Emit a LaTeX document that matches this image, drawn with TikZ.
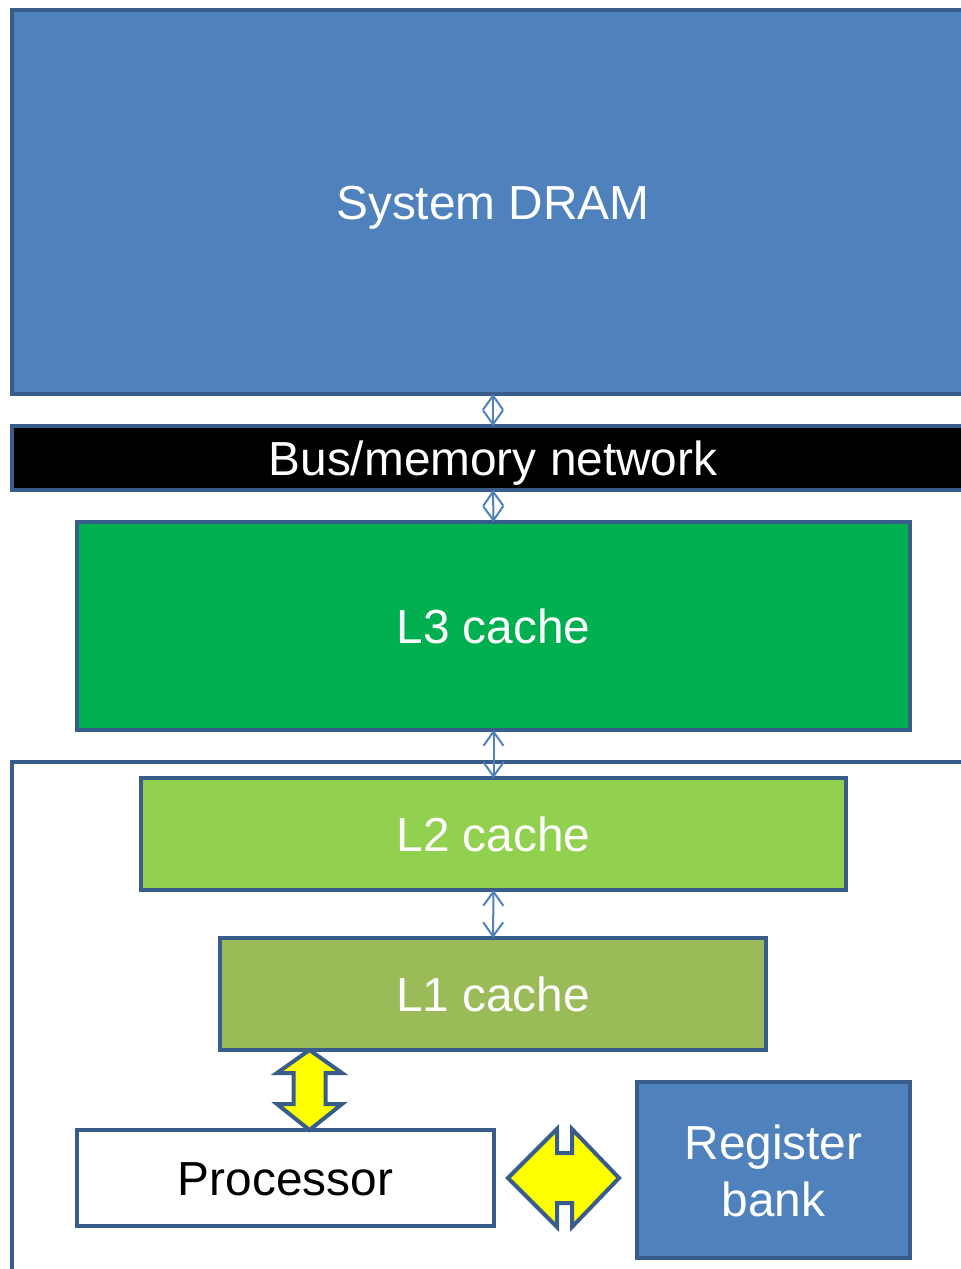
\documentclass[tikz,border=0pt]{standalone}
\usepackage{fontspec}
\setmainfont{Liberation Sans}
\usetikzlibrary{arrows.meta,calc}
\definecolor{edgeblue}{HTML}{385D8A}
\definecolor{boxblue}{HTML}{4F81BD}
\definecolor{lthree}{HTML}{00B050}
\definecolor{ltwo}{HTML}{92D050}
\definecolor{lone}{HTML}{9BBB59}
\definecolor{busblack}{HTML}{000000}
\definecolor{arrowyellow}{HTML}{FFFF00}
\tikzset{
  block/.style={draw=edgeblue, line width=4pt, inner sep=0pt, outer sep=0pt,
    rectangle, text=white, align=center,
    font=\fontsize{47.8}{57}\selectfont, text height=34pt, text depth=0pt},
  link/.style={draw=boxblue, line width=2pt,
    {Straight Barb[length=14pt,width=20pt]}-{Straight Barb[length=14pt,width=20pt]}},
  fatarrow/.style={draw=edgeblue, line width=4pt, fill=arrowyellow, line join=miter},
}
\begin{document}
\begin{tikzpicture}[x=1pt,y=-1pt]
\useasboundingbox (0,0) rectangle (961,1269);
\clip (0,0) rectangle (961,1269);

% memory blocks
\node[block, fill=boxblue, minimum width=962pt, minimum height=384pt]
  (dram) at (493,202) {System DRAM};
\node[block, fill=busblack, minimum width=962pt, minimum height=64pt]
  (bus) at (493,458) {Bus/memory network};
\node[block, fill=lthree, minimum width=833pt, minimum height=208pt]
  (l3) at (493.5,626) {L3 cache};

% processor package outline
\draw[draw=edgeblue, line width=4pt] (12,1280) -- (12,762) -- (980,762);

\node[block, fill=ltwo, minimum width=705pt, minimum height=112pt]
  (l2) at (493.5,834) {L2 cache};
\node[block, fill=lone, minimum width=546pt, minimum height=112pt]
  (l1) at (493,994) {L1 cache};
\node[block, fill=white, text=black, minimum width=417pt, minimum height=96pt]
  (proc) at (285.5,1178) {Processor};
\node[block, fill=boxblue, minimum width=273pt, minimum height=176pt,
  text height=93pt]
  (regs) at (773.5,1170) {Register\\bank};

% thin links between levels
\draw[link] (dram.south) -- (bus.north);
\draw[link] (bus.south) -- (l3.north);
\draw[link] (l3.south) -- (l2.north);
\draw[link] (l2.south) -- (l1.north);

% wide arrow between L1 and the processor
\coordinate (va) at (309.5,1090);
\draw[fatarrow]
  ($(va)+(0,-40)$) -- ($(va)+(32.5,-17)$) -- ($(va)+(16,-17)$) --
  ($(va)+(16,14)$) -- ($(va)+(32.5,14)$) -- ($(va)+(0,40)$) --
  ($(va)+(-32.5,14)$) -- ($(va)+(-16,14)$) -- ($(va)+(-16,-17)$) --
  ($(va)+(-32.5,-17)$) -- cycle;

% wide arrow between the processor and the register bank
\coordinate (ha) at (564.5,1178);
\draw[fatarrow]
  ($(ha)+(-56.5,0)$) -- ($(ha)+(-7.5,-49)$) -- ($(ha)+(-7.5,-25)$) --
  ($(ha)+(7.5,-25)$) -- ($(ha)+(7.5,-49)$) -- ($(ha)+(54.5,0)$) --
  ($(ha)+(7.5,49)$) -- ($(ha)+(7.5,25)$) -- ($(ha)+(-7.5,25)$) --
  ($(ha)+(-7.5,49)$) -- cycle;
\end{tikzpicture}
\end{document}
